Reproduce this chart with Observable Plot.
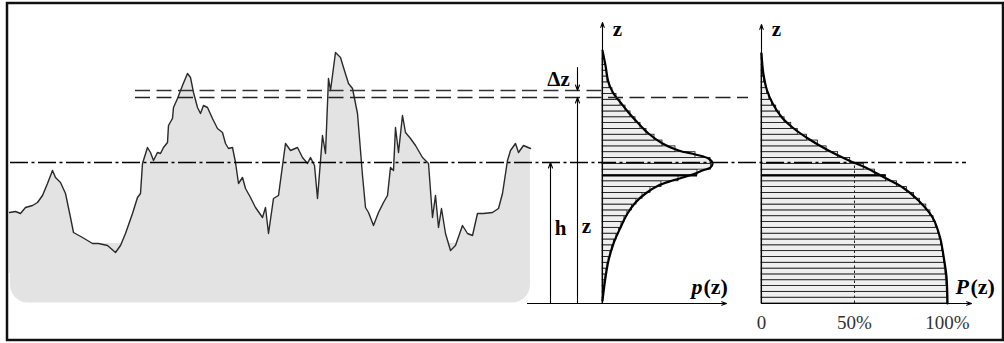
<!DOCTYPE html>
<html>
<head>
<meta charset="utf-8">
<script src="https://cdn.jsdelivr.net/npm/d3@7"></script>
<script src="https://cdn.jsdelivr.net/npm/@observablehq/plot@0.6"></script>
<style>
  html, body { margin: 0; padding: 0; background: #fff; }
  #chart svg { display: block; }
</style>
</head>
<body>
<div id="chart"></div>
<script>
// ---------------- data (heights in profile units, 0 = reference base) ----------------
// surface profile: position along profile and height
const profileS = [9,15,20,25,32,37,42,47,52,55,60,65,70,73,82,92,98,107,115,120,125,132,137,
  140,142,147,150,153,157,160,163,167,168,172,173,177,182,187,190,193,197,200,203,207,212,217,222,225,228,232,235,238,242,245,250,255,262,265,268,
  273,278,285,290,297,302,307,310,314,317,322,325,328,330,335,340,343,348,352,357,362,365,368,373,378,383,387,390,393,395,398,
  402,405,410,415,422,428,432,435,438,441,445,450,455,462,467,472,477,483,492,498,502,507,510,515,518,523,530];
const profileZ = [91,92,90,96,98,101,108,120,133,126,121,110,86,71,66,60,60,58,51,58,70,90,106,
  110,140,156,151,143,151,150,156,161,178,185,196,205,218,230,226,211,196,190,198,196,185,175,171,160,155,156,141,120,126,115,106,96,86,96,70,
  105,108,160,153,156,146,140,146,138,105,168,150,225,213,251,246,236,220,215,190,128,96,91,78,91,101,108,136,133,176,151,
  188,171,165,158,146,140,86,108,76,95,70,53,58,78,70,68,90,90,91,95,110,143,153,160,151,158,155];

// characteristic levels
const hLevel = 141;      // mean line h
const zLevel = 206;      // level z
const dzLevel = 213;     // level z + Δz

// histogram classes
const binWidth = 5.82;
// amplitude density p(z), one value per class (bottom to top, relative units)
const pBins = [0.3,0.8,1.3,2,3,4,5,6.2,8,9.8,11.5,14,16.5,19,22,25,29.5,34,40,48,59,76,95,108.5,108,93,73,60,52,44,38,33,28,23,18,14,10,7,5,4.3,3.5,2.3,1.2];
// bearing ratio P(z) in %, one value per class
const PBins = [99.9,99.8,99.6,99.4,99.1,98.9,98.5,98.1,97.7,97.1,96.5,95.8,94.9,93.7,92.5,90.8,88.6,85.2,82,78.2,72.8,67,61,55,47.7,41.2,35,30.3,24.4,19.5,16,12.4,9.9,7.9,5.7,4.2,3,2.3,1.3,1,0.7,0.4,0.1];
const boldEdge = 22;

// smooth curves
const pCurveZ = [253,238,221,210,201,191,180,170,160,153,149,145,140,136,133,129,123,118,110,101,90,76,60,43,26,3];
const pCurveV = [0,3,6,11,18,26,36,46,60,76,93,106,110,108,100,90,70,56,43,33,25,18,11,6,3,0];
const PCurveZ = [250,230,213,200,186,176,165,153,143,136,126,116,103,86,66,46,26,0];
const PCurveV = [0,1,3,6,11,16.7,25,36,47,56,66,76,84.4,92,96,98,99.5,100];

const PTicks = [0, 50, 100];
const PTickLabels = ["0", "50%", "100%"];

// ---------------- layout ----------------
const pAxisX = 602, PAxisX = 761, PFull = 186;
const px = v => pAxisX + v;
const PX = v => PAxisX + v / 100 * PFull;
const font = "'Liberation Serif', 'DejaVu Serif', serif";

const profile = profileS.map((s, i) => ({s, z: profileZ[i]}));
const pBars = pBins.map((v, i) => ({z1: i * binWidth, z2: (i + 1) * binWidth, v}));
const PBars = PBins.map((v, i) => ({z1: i * binWidth, z2: (i + 1) * binWidth, v}));
const pCurve = pCurveZ.map((z, i) => ({z, v: pCurveV[i]}));
const PCurve = PCurveZ.map((z, i) => ({z, v: PCurveV[i]}));
const one = [{}];

const segs = (list) => list.map(([x1, y1, x2, y2]) => ({x1, y1, x2, y2}));

const chart = Plot.plot({
  width: 1004,
  height: 343,
  marginLeft: 0, marginRight: 0, marginTop: 0, marginBottom: 40,
  x: {domain: [0, 1004], axis: null},
  y: {domain: [0, 303], axis: null},
  style: {background: "#fff", fontFamily: font},
  marks: [
    // grey profile body with rounded bottom
    Plot.rect(one, {x1: 10, x2: 530, y1: 0.5, y2: 60, rx: 18, fill: "#e3e3e3"}),
    Plot.areaY(profile, {x: "s", y1: 30, y2: "z", fill: "#e3e3e3"}),
    Plot.line(profile, {x: "s", y: "z", stroke: "#2a2a2a", strokeWidth: 1.4, strokeLinejoin: "round"}),

    // histogram p(z)
    Plot.rect(pBars, {x1: pAxisX, x2: d => px(d.v), y1: "z1", y2: "z2", fill: "#efefef", stroke: "#111", strokeWidth: 0.8}),
    // histogram P(z)
    Plot.rect(PBars, {x1: PAxisX, x2: d => PX(d.v), y1: "z1", y2: "z2", fill: "#efefef", stroke: "#111", strokeWidth: 0.8}),
    // bold class edge
    Plot.ruleY([boldEdge * binWidth], {x1: pAxisX, x2: px(Math.max(pBins[boldEdge - 1], pBins[boldEdge])), stroke: "#000", strokeWidth: 2.2}),
    Plot.ruleY([boldEdge * binWidth], {x1: PAxisX, x2: PX(Math.max(PBins[boldEdge - 1], PBins[boldEdge])), stroke: "#000", strokeWidth: 2.2}),
    // 50% dotted line
    Plot.ruleX([50], {x: d => PX(d), y1: 0, y2: hLevel - 3, stroke: "#222", strokeWidth: 1, strokeDasharray: "2.5,2.5"}),

    // curves
    Plot.line(pCurve, {x: d => px(d.v), y: "z", curve: "catmull-rom", stroke: "#000", strokeWidth: 2.2}),
    Plot.line(PCurve, {x: d => PX(d.v), y: "z", curve: "catmull-rom", stroke: "#000", strokeWidth: 2.2}),

    // mean line h (dash-dot)
    Plot.ruleY([hLevel], {x1: 10, x2: 966, stroke: "#000", strokeWidth: 1.3, strokeDasharray: "18,3.5,3,3.5"}),
    // levels z + Δz and z (dashed)
    Plot.ruleY([dzLevel], {x1: 135, x2: pAxisX, stroke: "#333", strokeWidth: 1.4, strokeDasharray: "15,6.5"}),
    Plot.ruleY([zLevel], {x1: 135, x2: 748, stroke: "#222", strokeWidth: 1.4, strokeDasharray: "15,6.5"}),

    // base line
    Plot.ruleY([0], {x1: 527, x2: pAxisX, stroke: "#000", strokeWidth: 1.2}),

    // axes arrows
    Plot.arrow(segs([
      [pAxisX, 0, pAxisX, 281],
      [pAxisX, 0, 726, 0],
      [PAxisX, 0, PAxisX, 279],
      [PAxisX, 0, 971, 0]
    ]), {x1: "x1", y1: "y1", x2: "x2", y2: "y2", stroke: "#000", strokeWidth: 1.1, headLength: 7, headAngle: 40}),

    // dimension arrows h, z, Δz
    Plot.arrow(segs([
      [550, 0, 550, hLevel],
      [577, 0, 577, zLevel],
      [577, 236, 577, dzLevel]
    ]), {x1: "x1", y1: "y1", x2: "x2", y2: "y2", stroke: "#000", strokeWidth: 1.1, headLength: 8, headAngle: 40}),

    // labels
    Plot.text(["h"], {x: 560, y: 75, fontSize: 21, fontWeight: "bold", fontFamily: font, fill: "#000"}),
    Plot.text(["z"], {x: 586, y: 77, fontSize: 21, fontWeight: "bold", fontFamily: font, fill: "#000"}),
    Plot.text(["Δz"], {x: 558, y: 224, fontSize: 21, fontWeight: "bold", fontFamily: font, fill: "#000"}),
    Plot.text(["z"], {x: 617, y: 274, fontSize: 21, fontWeight: "bold", fontFamily: font, fill: "#000"}),
    Plot.text(["z"], {x: 776, y: 274, fontSize: 21, fontWeight: "bold", fontFamily: font, fill: "#000"}),
    Plot.text(["p"], {x: 691, y: 17, textAnchor: "start", fontSize: 22, fontWeight: "bold", fontStyle: "italic", fontFamily: font, fill: "#000"}),
    Plot.text(["(z)"], {x: 703, y: 17, textAnchor: "start", fontSize: 22, fontWeight: "bold", fontFamily: font, fill: "#000"}),
    Plot.text(["P"], {x: 955, y: 17, textAnchor: "start", fontSize: 22, fontWeight: "bold", fontStyle: "italic", fontFamily: font, fill: "#000"}),
    Plot.text(["(z)"], {x: 970, y: 17, textAnchor: "start", fontSize: 22, fontWeight: "bold", fontFamily: font, fill: "#000"}),

    // P(z) tick labels
    Plot.text(PTicks, {x: d => PX(d), y: -19, text: (d, i) => PTickLabels[i], fontSize: 19, fontFamily: font, fill: "#333"}),

    // outer frame
    Plot.rect(one, {x1: 7, x2: 1003, y1: -37, y2: 300, fill: "none", stroke: "#111", strokeWidth: 2.5})
  ]
});
document.getElementById("chart").appendChild(chart);
</script>
</body>
</html>
